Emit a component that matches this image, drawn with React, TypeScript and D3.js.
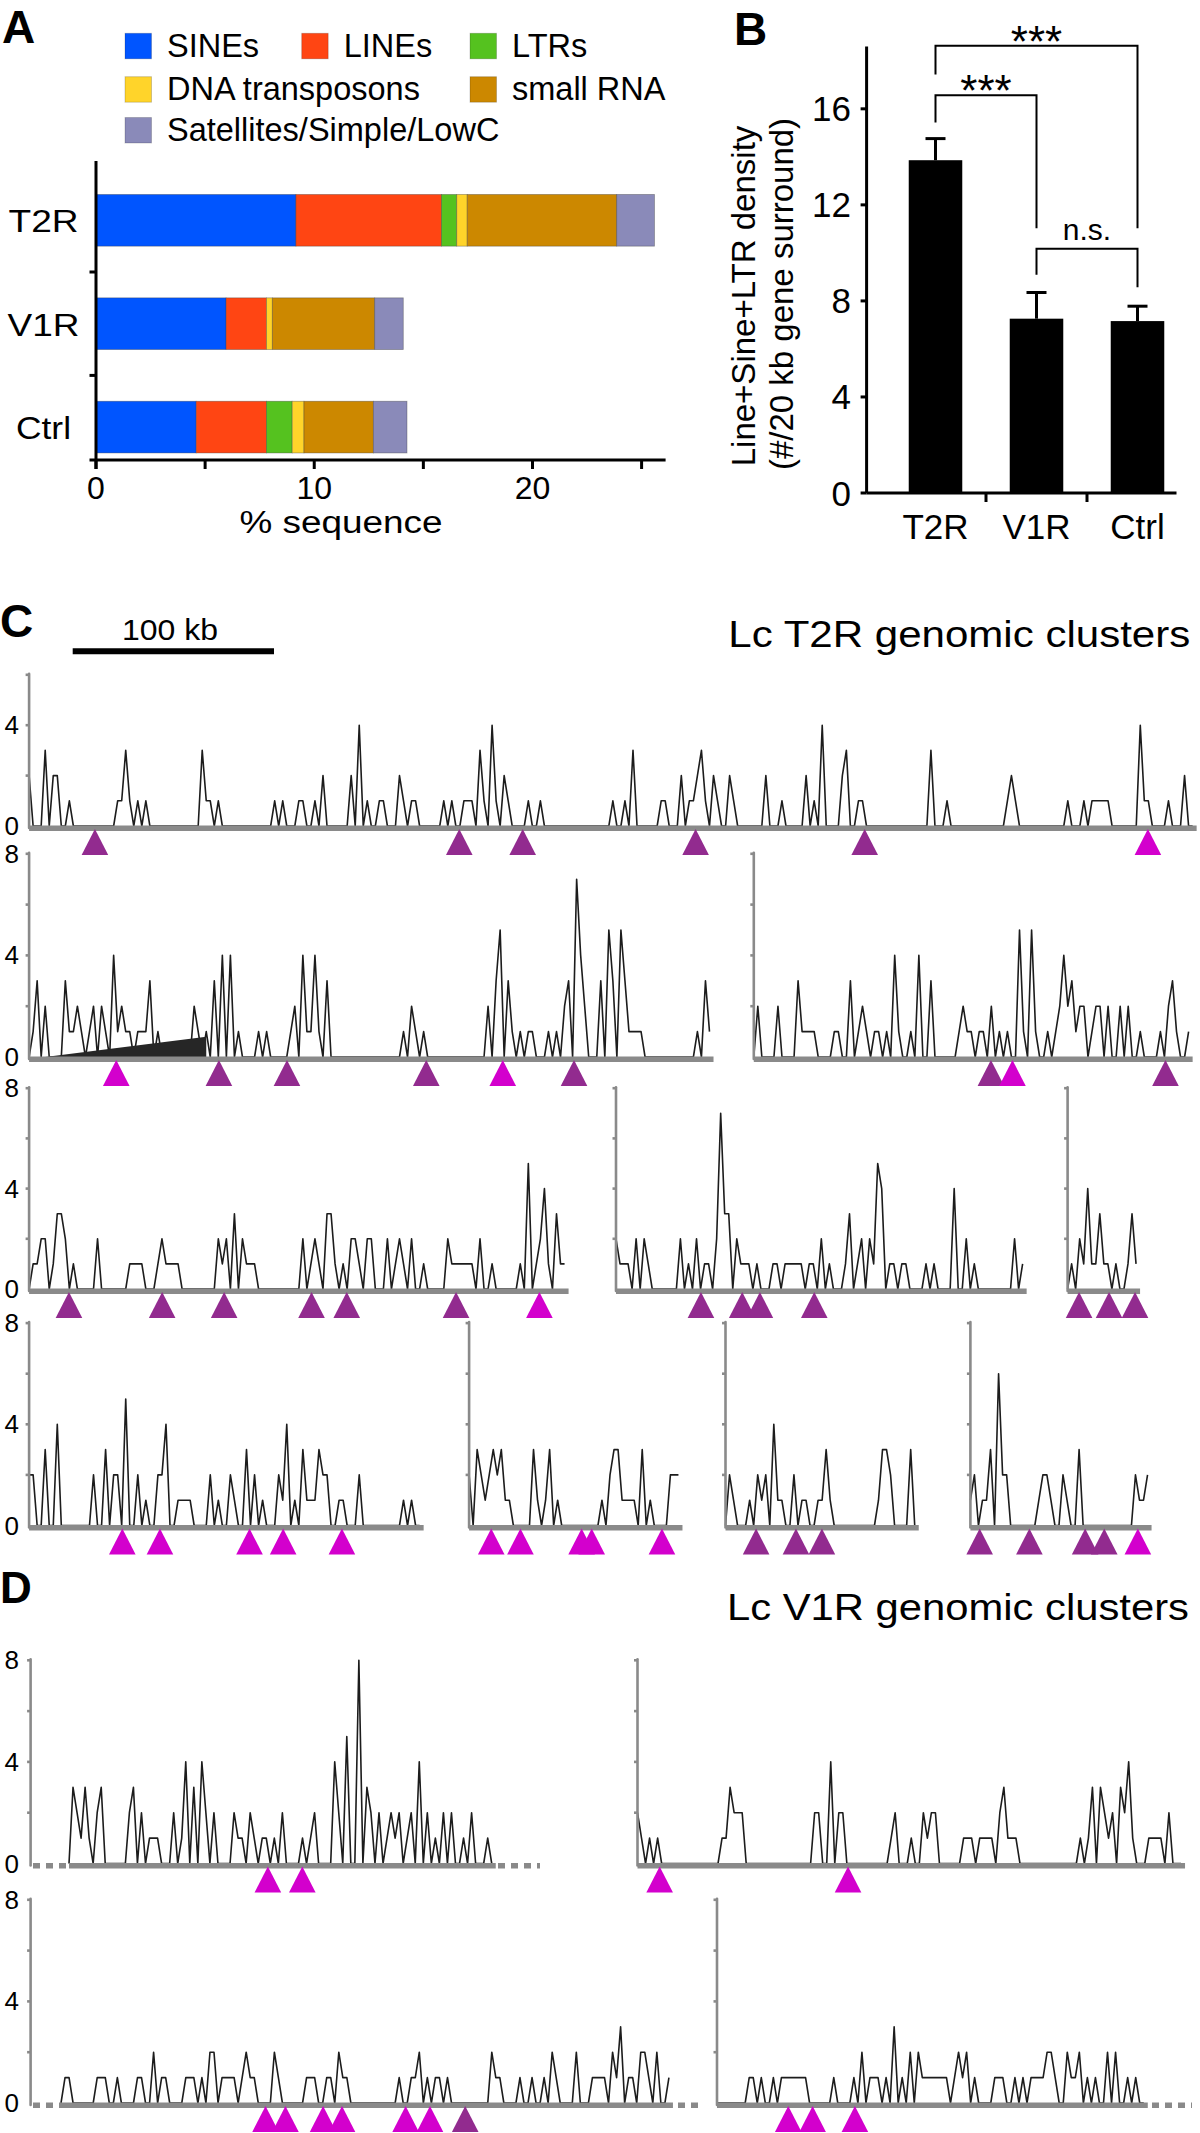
import React, { useEffect } from "react";
import * as d3 from "d3";

const FONT = "'Liberation Sans', Arial, Helvetica, sans-serif";

// ---------------- Panel A data ----------------
const A_CATEGORIES = ["T2R", "V1R", "Ctrl"];
const A_SERIES = ["SINEs", "LINEs", "LTRs", "DNA transposons", "small RNA", "Satellites/Simple/LowC"];
const A_COLORS = ["#0055FF", "#FF4513", "#55C21F", "#FFD42A", "#CC8800", "#8A8AB9"];
const A_SINES = [9.16, 5.96, 4.59];
const A_LINES = [6.67, 1.85, 3.22];
const A_LTRS = [0.7, 0, 1.18];
const A_DNA = [0.48, 0.27, 0.54];
const A_SMALLRNA = [6.85, 4.69, 3.18];
const A_SATELLITES = [1.73, 1.31, 1.54];
const A_MAJOR_TICKS = [0, 10, 20];
const A_MINOR_TICKS = [5, 15, 25];

// ---------------- Panel B data ----------------
const B_CATEGORIES = ["T2R", "V1R", "Ctrl"];
const B_MEANS = [13.86, 7.26, 7.16];
const B_SEM = [0.9, 1.09, 0.62];
const B_TICKS = [0, 4, 8, 12, 16];
const B_BRACKET_FROM = [0, 0, 1];
const B_BRACKET_TO = [2, 1, 2];
const B_BRACKET_TOP = [18.63, 16.57, 10.17];
const B_BRACKET_LEFT_END = [17.43, 15.43, 9.09];
const B_BRACKET_RIGHT_END = [11.03, 11.03, 8.57];
const B_BRACKET_LABEL = ["***", "***", "n.s."];

// ---------------- Panels C / D data ----------------
// density per 2-kb bin: [bin index, count]; bins not listed have no repeats
type Pair = [number, number];
type Gene = [number, string]; // [kb position, 'p' = purple, 'm' = magenta]

const C1_DENSITY: Pair[] = [[0,2],[4,3],[6,2],[7,2],[10,1],[22,1],[23,1],[24,3],[25,1],[27,1],[29,1],[43,3],[44,1],[45,1],[47,1],[61,1],[63,1],[67,1],[68,1],[71,1],[73,2],[80,2],[82,4],[84,1],[87,1],[88,1],[92,2],[93,1],[95,1],[96,1],[103,1],[105,1],[108,1],[109,1],[110,1],[112,3],[113,1],[115,4],[116,1],[118,2],[119,1],[124,1],[127,1],[145,1],[148,1],[150,3],[157,1],[158,1],[162,2],[164,1],[165,1],[166,2],[167,3],[168,1],[170,2],[171,1],[174,2],[175,1],[183,2],[187,1],[193,2],[195,1],[197,4],[202,2],[203,3],[206,1],[207,1],[224,3],[228,1],[243,1],[244,2],[245,1],[258,1],[262,1],[264,1],[265,1],[266,1],[267,1],[268,1],[276,4],[277,1],[278,1],[283,1],[287,2]];
const C2L_DENSITY: Pair[] = [[1,1],[2,3],[4,2],[9,3],[10,1],[11,1],[12,2],[13,1],[15,1],[16,2],[18,2],[19,1],[21,4],[22,1],[23,2],[24,1],[25,1],[27,1],[28,1],[29,1],[30,3],[32,1],[41,2],[42,1],[44,1],[46,3],[48,4],[50,4],[52,1],[57,1],[59,1],[65,1],[66,2],[68,4],[69,1],[70,1],[71,4],[72,1],[74,3],[93,1],[95,2],[96,1],[98,1],[114,2],[116,3],[117,5],[119,3],[120,1],[122,1],[124,1],[125,1],[129,1],[131,1],[133,2],[134,3],[136,7],[137,4],[138,2],[142,3],[144,5],[145,3],[147,5],[148,3],[149,1],[150,1],[151,1],[152,1],[166,1],[168,3],[169,1]];
const C2L_ARTIFACT: Pair[] = [[4,0],[44,0.8],[44,0]];
const C2R_DENSITY: Pair[] = [[1,2],[6,2],[11,3],[12,1],[13,1],[14,1],[15,1],[20,1],[21,1],[24,3],[26,1],[27,2],[28,1],[30,1],[31,1],[33,1],[35,4],[36,1],[39,1],[41,4],[44,3],[51,1],[52,2],[53,1],[54,1],[56,1],[57,1],[59,2],[61,1],[63,1],[66,5],[67,1],[69,5],[70,1],[73,1],[75,1],[76,2],[77,4],[78,2],[79,3],[80,1],[81,2],[82,2],[84,1],[85,2],[86,2],[88,2],[91,2],[93,2],[96,1],[101,1],[103,2],[104,3],[105,1],[108,1]];
const C3P1_DENSITY: Pair[] = [[1,1],[2,1],[3,2],[4,2],[6,1],[7,3],[8,3],[9,2],[11,1],[17,2],[25,1],[26,1],[27,1],[28,1],[32,1],[33,2],[34,1],[35,1],[36,1],[37,1],[47,2],[48,1],[49,2],[51,3],[53,2],[54,1],[55,1],[56,1],[68,2],[70,1],[71,2],[72,1],[74,3],[75,3],[76,1],[78,1],[80,2],[81,2],[82,1],[84,2],[85,2],[89,2],[91,1],[92,2],[93,1],[95,2],[98,1],[104,2],[105,1],[106,1],[107,1],[108,1],[109,1],[110,1],[112,2],[115,1],[122,1],[124,5],[126,1],[127,2],[128,4],[129,1],[131,3],[132,1],[133,1]];
const C3P2_DENSITY: Pair[] = [[0,2],[1,1],[2,1],[3,1],[5,2],[7,2],[8,1],[16,2],[18,1],[20,2],[22,1],[23,1],[25,2],[26,7],[27,3],[28,3],[30,2],[31,1],[32,1],[33,1],[35,1],[39,1],[40,1],[42,1],[43,1],[44,1],[45,1],[46,1],[48,1],[49,1],[51,2],[53,1],[57,1],[58,3],[60,1],[61,2],[63,2],[64,1],[65,5],[66,4],[68,1],[69,1],[71,1],[72,1],[77,1],[79,1],[84,4],[87,2],[89,1],[99,2],[101,1]];
const C3P3_DENSITY: Pair[] = [[1,1],[3,2],[4,1],[5,4],[6,1],[7,1],[8,3],[9,1],[10,1],[12,1],[15,1],[16,3],[17,1]];
const C4P1_DENSITY: Pair[] = [[0,2],[1,2],[4,3],[7,4],[16,2],[19,3],[21,2],[22,2],[24,5],[27,2],[29,1],[32,2],[33,2],[34,4],[37,1],[38,1],[39,1],[40,1],[45,2],[47,1],[50,2],[51,1],[54,3],[56,2],[58,1],[62,2],[63,1],[64,4],[66,1],[68,3],[69,1],[70,1],[71,1],[72,3],[73,2],[74,2],[77,1],[78,1],[82,2],[93,1],[95,1]];
const C4P2_DENSITY: Pair[] = [[0,2],[2,3],[3,2],[4,1],[5,2],[6,3],[7,2],[8,3],[9,1],[10,1],[16,3],[17,1],[19,1],[20,3],[22,1],[33,1],[35,2],[36,3],[37,3],[38,1],[39,1],[40,1],[41,1],[43,3],[45,1],[50,2],[51,2],[52,2]];
const C4P3_DENSITY: Pair[] = [[1,2],[2,1],[6,1],[8,2],[9,1],[10,2],[12,4],[13,1],[14,1],[17,2],[19,1],[20,1],[23,1],[24,1],[25,3],[26,1],[38,1],[39,3],[40,3],[41,2],[46,3]];
const C4P4_DENSITY: Pair[] = [[0,1],[1,2],[3,1],[4,1],[5,3],[7,6],[8,2],[9,2],[17,1],[18,2],[19,2],[20,1],[23,2],[24,1],[27,3],[41,2],[42,1],[43,1],[44,2]];
const D1P1_DENSITY: Pair[] = [[1,3],[2,2],[3,1],[4,3],[5,1],[7,2],[8,3],[15,2],[16,3],[18,2],[20,1],[21,1],[22,1],[26,2],[28,1],[29,4],[31,3],[33,4],[34,2],[36,2],[41,2],[42,1],[43,1],[45,2],[46,1],[48,1],[49,1],[51,1],[53,2],[58,1],[60,1],[61,2],[66,4],[67,2],[69,5],[72,8],[74,3],[75,2],[77,2],[79,1],[80,2],[81,1],[82,2],[84,1],[85,2],[87,4],[89,2],[91,1],[93,2],[95,2],[98,1],[100,2],[104,1]];
const D1P2_DENSITY: Pair[] = [[0,2],[1,1],[3,1],[5,1],[21,1],[22,1],[23,3],[24,2],[25,2],[26,2],[44,2],[45,2],[48,4],[50,2],[51,2],[63,1],[64,2],[68,1],[71,2],[72,1],[73,2],[74,2],[81,1],[82,1],[83,1],[85,1],[86,1],[87,1],[88,1],[90,2],[91,3],[92,1],[93,1],[94,1],[110,1],[112,1],[113,3],[115,3],[116,2],[117,1],[118,2],[120,3],[121,2],[122,4],[123,1],[127,1],[128,1],[129,1],[130,1],[132,2]];
const D2P1_DENSITY: Pair[] = [[1,1],[2,1],[9,1],[10,1],[11,1],[14,1],[19,1],[20,1],[23,2],[25,1],[26,1],[31,1],[32,1],[33,1],[35,1],[37,2],[38,2],[40,1],[41,1],[42,1],[43,1],[45,1],[46,2],[47,1],[48,1],[53,2],[54,1],[61,1],[62,1],[63,1],[66,1],[67,1],[69,2],[70,1],[71,1],[84,1],[87,1],[88,1],[89,2],[91,1],[93,1],[94,1],[96,1],[107,2],[108,1],[109,1],[114,1],[117,1],[120,1],[122,2],[123,1],[128,2],[132,1],[133,1],[134,1],[135,1],[137,2],[138,1],[139,3],[141,1],[142,1],[144,2],[145,2],[146,1],[148,2],[151,1]];
const D2P2_DENSITY: Pair[] = [[8,1],[9,1],[11,1],[14,1],[16,1],[17,1],[18,1],[19,1],[20,1],[21,1],[22,1],[29,1],[34,1],[36,2],[38,1],[39,1],[40,1],[42,1],[44,3],[46,1],[48,2],[50,2],[51,1],[52,1],[53,1],[54,1],[55,1],[56,1],[57,1],[59,1],[60,2],[61,1],[62,2],[64,1],[69,1],[70,1],[71,1],[74,1],[76,1],[78,1],[79,1],[80,1],[81,1],[82,2],[83,2],[84,1],[87,2],[88,1],[89,1],[90,2],[92,1],[94,1],[97,2],[99,2],[102,1],[104,1]];

const C1_GENES: Gene[] = [[32.7,"p"],[213.7,"p"],[245.2,"p"],[331.1,"p"],[415.1,"p"],[555.8,"m"]];
const C2L_GENES: Gene[] = [[43.3,"m"],[94.3,"p"],[128.1,"p"],[197.3,"p"],[235.3,"m"],[270.7,"p"]];
const C2R_GENES: Gene[] = [[117.8,"p"],[128.5,"m"],[204.5,"p"]];
const C3P1_GENES: Gene[] = [[19.8,"p"],[66.1,"p"],[96.9,"p"],[140.3,"p"],[157.8,"p"],[212.1,"p"],[253.5,"m"]];
const C3P2_GENES: Gene[] = [[42.2,"p"],[62.7,"p"],[71.5,"p"],[98.5,"p"]];
const C3P3_GENES: Gene[] = [[5.7,"p"],[20.6,"p"],[33.5,"p"]];
const C4P1_GENES: Gene[] = [[46.3,"m"],[65,"m"],[109.5,"m"],[126.2,"m"],[155.4,"m"]];
const C4P2_GENES: Gene[] = [[11,"m"],[25.5,"m"],[55.9,"m"],[60.9,"m"],[95.8,"m"]];
const C4P3_GENES: Gene[] = [[15.2,"p"],[35,"p"],[47.9,"p"]];
const C4P4_GENES: Gene[] = [[4.6,"p"],[29.3,"p"],[57,"p"],[66.5,"p"],[83.2,"m"]];
const D1P1_GENES: Gene[] = [[98.8,"m"],[115.9,"m"]];
const D1P2_GENES: Gene[] = [[11,"m"],[104.6,"m"]];
const D2P1_GENES: Gene[] = [[101.6,"m"],[111.5,"m"],[130.2,"m"],[139.6,"m"],[171.2,"m"],[183.3,"m"],[200.8,"p"]];
const D2P2_GENES: Gene[] = [[35.4,"m"],[47.5,"m"],[68.5,"m"]];

const KB_PER_BIN = 2;
const SCALE_BAR_KB = 100;
const Y_TICKS = [0, 2, 4, 6, 8];

// ---------------- Layout (pixels) ----------------
const KB100_PX = 201.3;
const GENE_COLORS: Record<string, string> = { p: "#922B8F", m: "#D300CD" };

interface TrackLayout {
  data: Pair[]; genes: Gene[]; bins: number; y0: number; unit: number;
  axisX: number; x0: number; max: number; labels?: number[]; dashes?: number[][]; artifact?: Pair[];
}

const TRACKS: TrackLayout[] = [
  { data: C1_DENSITY, genes: C1_GENES, bins: 290, y0: 826, unit: 25.2, axisX: 29.1, x0: 29.1, max: 6, labels: [0, 4] },
  { data: C2L_DENSITY, genes: C2L_GENES, bins: 170, y0: 1057, unit: 25.4, axisX: 29.1, x0: 29.1, max: 8, labels: [0, 4, 8], artifact: C2L_ARTIFACT },
  { data: C2R_DENSITY, genes: C2R_GENES, bins: 109, y0: 1057, unit: 25.4, axisX: 753.8, x0: 753.8, max: 8 },
  { data: C3P1_DENSITY, genes: C3P1_GENES, bins: 134, y0: 1289, unit: 25.1, axisX: 29.1, x0: 29.1, max: 8, labels: [0, 4, 8] },
  { data: C3P2_DENSITY, genes: C3P2_GENES, bins: 102, y0: 1289, unit: 25.1, axisX: 616, x0: 616, max: 8 },
  { data: C3P3_DENSITY, genes: C3P3_GENES, bins: 18, y0: 1289, unit: 25.1, axisX: 1067.6, x0: 1067.6, max: 8 },
  { data: C4P1_DENSITY, genes: C4P1_GENES, bins: 98, y0: 1525.5, unit: 25.3, axisX: 29.1, x0: 29.1, max: 8, labels: [0, 4, 8] },
  { data: C4P2_DENSITY, genes: C4P2_GENES, bins: 53, y0: 1525.5, unit: 25.3, axisX: 469.1, x0: 469.1, max: 8 },
  { data: C4P3_DENSITY, genes: C4P3_GENES, bins: 48, y0: 1525.5, unit: 25.3, axisX: 725.5, x0: 725.5, max: 8 },
  { data: C4P4_DENSITY, genes: C4P4_GENES, bins: 45, y0: 1525.5, unit: 25.3, axisX: 970.4, x0: 970.4, max: 8 },
  { data: D1P1_DENSITY, genes: D1P1_GENES, bins: 106, y0: 1863.5, unit: 25.4, axisX: 30.6, x0: 69, max: 8, labels: [0, 4, 8], dashes: [[33, 69], [498, 540]] },
  { data: D1P2_DENSITY, genes: D1P2_GENES, bins: 136, y0: 1863.5, unit: 25.4, axisX: 637.5, x0: 637.5, max: 8 },
  { data: D2P1_DENSITY, genes: D2P1_GENES, bins: 152, y0: 2103, unit: 25.4, axisX: 30.6, x0: 61, max: 8, labels: [0, 4, 8], dashes: [[33, 61], [678, 700]] },
  { data: D2P2_DENSITY, genes: D2P2_GENES, bins: 107, y0: 2103, unit: 25.4, axisX: 717, x0: 717, max: 8, dashes: [[1152, 1192]] },
];

const kbScale = d3.scaleLinear().domain([0, SCALE_BAR_KB]).range([0, KB100_PX]);

function Txt(props: any) {
  const { x, y, size, anchor = "start", weight = "normal", len, children, transform, fill = "#000" } = props;
  return (
    <text x={x} y={y} fontSize={size} textAnchor={anchor} fontWeight={weight} fontFamily={FONT}
      fill={fill} transform={transform}
      textLength={len} lengthAdjust={len ? "spacingAndGlyphs" : undefined}>{children}</text>
  );
}

function Track({ t }: { t: TrackLayout }) {
  const dense: number[] = new Array(t.bins).fill(0);
  t.data.forEach(([i, v]) => { if (i < t.bins) dense[i] = v; });
  const x = (bin: number) => t.x0 + kbScale(bin * KB_PER_BIN);
  const y = d3.scaleLinear().domain([0, 8]).range([t.y0, t.y0 - 8 * t.unit]);
  const line = d3.line<number>().x((_, i) => x(i)).y((d) => y(d));
  const endX = x(t.bins);
  const ticks = Y_TICKS.filter((v) => v <= t.max);
  const gray = "#8a8a8a";
  return (
    <g>
      <path d={line(dense) || ""} fill="none" stroke="#1c1c1c" strokeWidth={1.6} strokeLinejoin="round" />
      {t.artifact && (
        <path d={d3.line<Pair>().x((d) => x(d[0])).y((d) => y(d[1]))(t.artifact) + "Z"} fill="#262626" />
      )}
      <line x1={t.x0} x2={endX} y1={t.y0 + 2.3} y2={t.y0 + 2.3} stroke={gray} strokeWidth={5.6} />
      {t.dashes && t.dashes.map((d, i) => (
        <line key={i} x1={d[0]} x2={d[1]} y1={t.y0 + 2.3} y2={t.y0 + 2.3} stroke={gray} strokeWidth={5.6} strokeDasharray="7 6" />
      ))}
      <line x1={t.axisX} x2={t.axisX} y1={t.y0 + 2} y2={y(t.max) - 1} stroke={gray} strokeWidth={2.6} strokeLinecap="round" />
      {ticks.filter((v) => v > 0).map((v) => (
        <line key={v} x1={t.axisX - 3.5} x2={t.axisX} y1={y(v)} y2={y(v)} stroke={gray} strokeWidth={2.6} />
      ))}
      {t.labels && t.labels.map((v) => (
        <Txt key={v} x={19} y={y(v) + 9} size={26} anchor="end">{v}</Txt>
      ))}
      {t.genes.map(([kb, c], i) => {
        const gx = t.x0 + kbScale(kb);
        const top = t.y0 + 3;
        const bot = t.y0 + 29;
        return <path key={i} d={`M${gx - 13.3},${bot}L${gx},${top}L${gx + 13.3},${bot}Z`} fill={GENE_COLORS[c]} />;
      })}
    </g>
  );
}

function PanelA() {
  const axisY = 460;
  const x = d3.scaleLinear().domain([0, 26.1]).range([96, 665.6]);
  const y = d3.scaleBand<string>().domain(A_CATEGORIES).range([168.6, 478.8]).paddingInner(0.5).paddingOuter(0.25);
  const series = [A_SINES, A_LINES, A_LTRS, A_DNA, A_SMALLRNA, A_SATELLITES];
  const rows = A_CATEGORIES.map((c, ci) => {
    const obj: any = { cat: c };
    A_SERIES.forEach((s, si) => { obj[s] = series[si][ci]; });
    return obj;
  });
  const stack = d3.stack<any>().keys(A_SERIES)(rows);
  const legendPos = [[125, 33.3], [301.7, 33.3], [470, 33.3], [125, 76.7], [470, 76.7], [125, 117.5]];
  const step = y.step();
  return (
    <g>
      <Txt x={2} y={43} size={46} weight="bold">A</Txt>
      {A_SERIES.map((s, i) => (
        <g key={s}>
          <rect x={legendPos[i][0]} y={legendPos[i][1]} width={26.5} height={25.5} fill={A_COLORS[i]} stroke="rgba(0,0,0,0.18)" strokeWidth={1} />
          <Txt x={legendPos[i][0] + 42} y={legendPos[i][1] + 23.6} size={32.5}>{s}</Txt>
        </g>
      ))}
      {stack.map((layer, si) => layer.map((d, ci) => {
        const w = x(d[1]) - x(d[0]);
        if (w <= 0) return null;
        return (
          <rect key={`${si}-${ci}`} x={x(d[0])} y={y(A_CATEGORIES[ci])} width={w} height={y.bandwidth()}
            fill={A_COLORS[si]} stroke="rgba(60,60,60,0.45)" strokeWidth={0.8} />
        );
      }))}
      <line x1={96} x2={96} y1={161} y2={axisY + 9} stroke="#000" strokeWidth={3} />
      <line x1={89.5} x2={665.6} y1={axisY} y2={axisY} stroke="#000" strokeWidth={3} />
      {[1, 2].map((k) => {
        const yy = (y(A_CATEGORIES[k - 1]) as number) + y.bandwidth() + (step - y.bandwidth()) / 2;
        return <line key={k} x1={89.5} x2={96} y1={yy} y2={yy} stroke="#000" strokeWidth={3} />;
      })}
      {[...A_MAJOR_TICKS, ...A_MINOR_TICKS].map((v) => (
        <line key={v} x1={x(v)} x2={x(v)} y1={axisY} y2={axisY + 9} stroke="#000" strokeWidth={3} />
      ))}
      {A_MAJOR_TICKS.map((v) => (
        <Txt key={v} x={x(v)} y={499} size={32} anchor="middle">{v}</Txt>
      ))}
      <Txt x={341} y={533} size={31} anchor="middle" len={203}>% sequence</Txt>
      {A_CATEGORIES.map((c, i) => (
        <Txt key={c} x={43.5} y={(y(c) as number) + y.bandwidth() / 2 + 12} size={31} anchor="middle" len={[70, 72, 55][i]}>{c}</Txt>
      ))}
    </g>
  );
}

function PanelB() {
  const y = d3.scaleLinear().domain([0, 18.6]).range([493, 46.4]);
  const x = d3.scaleBand<string>().domain(B_CATEGORIES).range([885, 1188]).paddingInner(0.47).paddingOuter(0.235);
  const cx = (i: number) => (x(B_CATEGORIES[i]) as number) + x.bandwidth() / 2;
  const axisX = 866.6;
  return (
    <g>
      <Txt x={734} y={44.6} size={46} weight="bold">B</Txt>
      {B_CATEGORIES.map((c, i) => (
        <g key={c}>
          <line x1={cx(i)} x2={cx(i)} y1={y(B_MEANS[i])} y2={y(B_MEANS[i] + B_SEM[i])} stroke="#000" strokeWidth={3} />
          <line x1={cx(i) - 10} x2={cx(i) + 10} y1={y(B_MEANS[i] + B_SEM[i])} y2={y(B_MEANS[i] + B_SEM[i])} stroke="#000" strokeWidth={3} />
          <rect x={x(c)} y={y(B_MEANS[i])} width={x.bandwidth()} height={y(0) - y(B_MEANS[i])} fill="#000" />
          <Txt x={cx(i)} y={539} size={35} anchor="middle">{c}</Txt>
        </g>
      ))}
      <line x1={axisX} x2={axisX} y1={y(18.6)} y2={y(0)} stroke="#000" strokeWidth={3} />
      <line x1={axisX} x2={1176.5} y1={y(0)} y2={y(0)} stroke="#000" strokeWidth={3} />
      {B_TICKS.map((v) => (
        <g key={v}>
          <line x1={axisX - 6} x2={axisX} y1={y(v)} y2={y(v)} stroke="#000" strokeWidth={3} />
          <Txt x={851} y={y(v) + 12.5} size={35} anchor="end">{v}</Txt>
        </g>
      ))}
      {[1, 2].map((k) => {
        const xx = (cx(k - 1) + cx(k)) / 2;
        return <line key={k} x1={xx} x2={xx} y1={y(0)} y2={y(0) + 9} stroke="#000" strokeWidth={3} />;
      })}
      <g transform="translate(754.7,296) rotate(-90)">
        <Txt x={0} y={0} size={33} anchor="middle">Line+Sine+LTR density</Txt>
      </g>
      <g transform="translate(792.5,294) rotate(-90)">
        <Txt x={0} y={0} size={33} anchor="middle">(#/20 kb gene surround)</Txt>
      </g>
      {B_BRACKET_LABEL.map((lab, i) => {
        const xl = cx(B_BRACKET_FROM[i]);
        const xr = cx(B_BRACKET_TO[i]);
        const yt = y(B_BRACKET_TOP[i]);
        const d = `M${xl},${y(B_BRACKET_LEFT_END[i])}V${yt}H${xr}V${y(B_BRACKET_RIGHT_END[i])}`;
        const isStar = lab === "***";
        return (
          <g key={i}>
            <path d={d} fill="none" stroke="#000" strokeWidth={2} />
            <Txt x={(xl + xr) / 2} y={isStar ? yt + 11 : yt - 8.5} size={isStar ? 44 : 30} anchor="middle">{lab}</Txt>
          </g>
        );
      })}
    </g>
  );
}

function PanelsCD() {
  const barX0 = 72.7;
  return (
    <g>
      <Txt x={0} y={637} size={46} weight="bold">C</Txt>
      <Txt x={170} y={640} size={30} anchor="middle" len={96}>100 kb</Txt>
      <line x1={barX0} x2={barX0 + kbScale(SCALE_BAR_KB)} y1={651.3} y2={651.3} stroke="#000" strokeWidth={6} />
      <Txt x={728.3} y={647} size={37} len={462}>Lc T2R genomic clusters</Txt>
      <Txt x={0} y={1603} size={44} weight="bold">D</Txt>
      <Txt x={727} y={1620} size={37} len={462}>Lc V1R genomic clusters</Txt>
      {TRACKS.map((t, i) => <Track key={i} t={t} />)}
    </g>
  );
}

export default function App() {
  useEffect(() => {
    document.body.style.margin = "0";
  }, []);
  return (
    <svg width={1200} height={2133} viewBox="0 0 1200 2133" xmlns="http://www.w3.org/2000/svg"
      style={{ position: "absolute", left: 0, top: 0, background: "#fff", display: "block" }}>
      <rect x={0} y={0} width={1200} height={2133} fill="#fff" />
      <PanelA />
      <PanelB />
      <PanelsCD />
    </svg>
  );
}
